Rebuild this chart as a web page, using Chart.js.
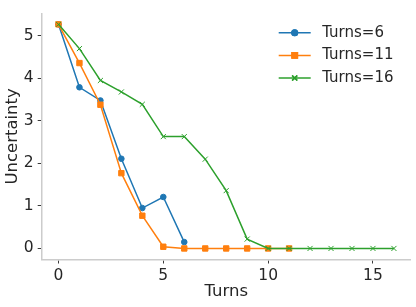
<!DOCTYPE html>
<html lang="en">
<head>
  <meta charset="UTF-8">
  <title>Uncertainty vs Turns</title>
  <script src="https://cdn.jsdelivr.net/npm/chart.js"></script>
  <style>
    html, body { margin: 0; padding: 0; background: #fff; }
    #wrap { width: 416px; height: 307px; }
  </style>
</head>
<body>
  <div id="wrap"><canvas id="chart"></canvas></div>
  <script>
    // Turn index for each series
    const turnsX = [0, 1, 2, 3, 4, 5, 6, 7, 8, 9, 10, 11, 12, 13, 14, 15, 16];

    // Uncertainty
    const turns6 = [5.27, 3.79, 3.48, 2.11, 0.95, 1.21, 0.15];
    const turns11 = [5.27, 4.36, 3.38, 1.77, 0.77, 0.04, 0, 0, 0, 0, 0, 0];
    const turns16 = [5.27, 4.70, 3.95, 3.68, 3.39, 2.63, 2.63, 2.10, 1.36, 0.22, 0, 0, 0, 0, 0, 0, 0];

    const seriesNames = ['Turns=6', 'Turns=11', 'Turns=16'];
    const xTicks = [0, 5, 10, 15];
    const yTicks = [0, 1, 2, 3, 4, 5];

    const textColor = '#262626';
    const tickFont = { family: 'DejaVu Sans', size: 15.5 };
    const titleFont = { family: 'DejaVu Sans', size: 16.5 };

    function toPoints(values) {
      return values.map((v, i) => ({ x: turnsX[i], y: v }));
    }

    const styles = [
      { color: '#1f77b4', pointStyle: 'circle', radius: 2.8, order: 2 },
      { color: '#ff7f0e', pointStyle: 'rect', radius: 3.8, order: 1 },
      { color: '#2ca02c', pointStyle: 'crossRot', radius: 3.6, order: 0 }
    ];
    const seriesValues = [turns6, turns11, turns16];

    const datasets = seriesValues.map((vals, i) => ({
      label: seriesNames[i],
      data: toPoints(vals),
      borderColor: styles[i].color,
      backgroundColor: styles[i].color,
      borderWidth: 1.5,
      pointStyle: styles[i].pointStyle,
      pointRadius: styles[i].radius,
      pointBorderWidth: 1,
      pointBackgroundColor: styles[i].color,
      pointBorderColor: styles[i].color,
      order: styles[i].order,
      tension: 0,
      fill: false
    }));

    // Frameless legend in the top-right corner, line + marker like matplotlib
    const legendPlugin = {
      id: 'mplLegend',
      afterDraw(chart) {
        const ctx = chart.ctx;
        const area = chart.chartArea;
        const x0 = area.right - 132;
        ctx.save();
        seriesNames.forEach((name, i) => {
          const y = area.top + 19.5 + i * 22.6;
          ctx.strokeStyle = styles[i].color;
          ctx.lineWidth = 1.5;
          ctx.beginPath();
          ctx.moveTo(x0, y);
          ctx.lineTo(x0 + 32, y);
          ctx.stroke();
          Chart.helpers.drawPoint(ctx, {
            pointStyle: styles[i].pointStyle,
            radius: styles[i].radius,
            rotation: 0,
            borderWidth: 1
          }, x0 + 16, y);
          ctx.fillStyle = styles[i].color;
          ctx.strokeStyle = styles[i].color;
          ctx.fill();
          ctx.stroke();
          ctx.fillStyle = textColor;
          ctx.font = '15px "DejaVu Sans"';
          ctx.textBaseline = 'middle';
          ctx.textAlign = 'left';
          ctx.fillText(name, x0 + 43.5, y);
        });
        ctx.restore();
      }
    };

    new Chart(document.getElementById('chart'), {
      type: 'line',
      data: { datasets: datasets },
      options: {
        responsive: true,
        maintainAspectRatio: false,
        animation: false,
        layout: { padding: { top: 5.5, right: 5.3, left: 0, bottom: 0 } },
        plugins: { legend: { display: false }, tooltip: { enabled: false } },
        scales: {
          x: {
            type: 'linear',
            min: -0.8,
            max: 16.8,
            afterBuildTicks: (scale) => { scale.ticks = xTicks.map(v => ({ value: v })); },
            afterFit: (scale) => { scale.height = 47.5; },
            grid: { drawOnChartArea: false, drawTicks: true, tickLength: 4, tickColor: '#3a3a3a', tickWidth: 1 },
            border: { display: true, color: '#cccccc', width: 1.5 },
            ticks: { color: textColor, font: tickFont, padding: 3, maxRotation: 0 },
            title: { display: true, text: 'Turns', color: textColor, font: titleFont, padding: { top: 0, bottom: 5.5 } }
          },
          y: {
            type: 'linear',
            min: -0.26,
            max: 5.53,
            afterBuildTicks: (scale) => { scale.ticks = yTicks.map(v => ({ value: v })); },
            afterFit: (scale) => { scale.width = 41.7; },
            grid: { drawOnChartArea: false, drawTicks: true, tickLength: 4, tickColor: '#3a3a3a', tickWidth: 1 },
            border: { display: true, color: '#cccccc', width: 1.5 },
            ticks: { color: textColor, font: tickFont, padding: 4 },
            title: { display: true, text: 'Uncertainty', color: textColor, font: titleFont, padding: { top: 2.5, bottom: 0 } }
          }
        }
      },
      plugins: [legendPlugin]
    });
  </script>
</body>
</html>
